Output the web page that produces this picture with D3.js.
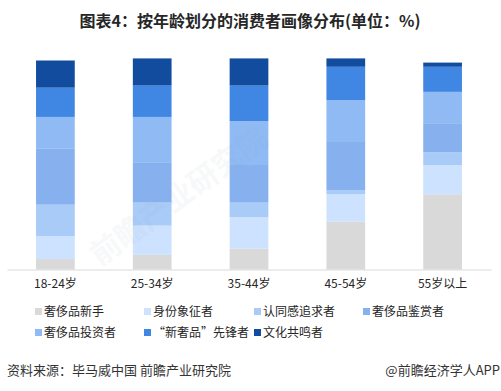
<!DOCTYPE html>
<html>
<head>
<meta charset="utf-8">
<script src="https://cdn.jsdelivr.net/npm/d3@7"></script>
<style>
  body { margin: 0; background: #fff; }
  svg { display: block; font-family: "Noto Sans CJK SC", "Noto Sans", sans-serif; }
</style>
</head>
<body>
<svg id="chart" width="501" height="391"></svg>
<script>
// age groups on the x axis
const ageGroups = ['18-24岁', '25-34岁', '35-44岁', '45-54岁', '55岁以上'];

// consumer types, stacked bottom -> top
const consumerTypes = ['奢侈品新手', '身份象征者', '认同感追求者', '奢侈品鉴赏者', '奢侈品投资者', '\u201C新奢品\u201D先锋者', '文化共鸣者'];

// share (%) of each type per age group
const novice      = [5, 7, 10, 23, 36];
const statusSym   = [11, 14, 15, 13, 14];
const identity    = [15, 11, 7, 2, 6];
const connoisseur = [27, 19, 18, 23, 14];
const investor    = [15, 22, 21, 20, 15];
const pioneer     = [14, 15, 17, 16, 12];
const culture     = [13, 13, 13, 4, 2];

const seriesValues = [novice, statusSym, identity, connoisseur, investor, pioneer, culture];

const colors = ['#d9d9d9', '#cce2fe', '#a9cbf7', '#87b1ee', '#8fbaf3', '#3f87e3', '#114c9e'];

const svg = d3.select('#chart');

// build rows for d3.stack
const rows = ageGroups.map((g, i) => {
    const r = {group: g};
    consumerTypes.forEach((t, k) => { r[t] = seriesValues[k][i]; });
    return r;
});
const stacked = d3.stack().keys(consumerTypes)(rows);

const x = d3.scaleBand()
    .domain(ageGroups)
    .range([7, 491])
    .paddingInner(0.6)
    .paddingOuter(0.3);

const y = d3.scaleLinear()
    .domain([0, 100])
    .range([269.5, 60.5]);

// title
svg.append('text')
    .attr('x', 250)
    .attr('y', 27)
    .attr('text-anchor', 'middle')
    .attr('font-size', 16)
    .attr('font-weight', 'bold')
    .attr('fill', '#262626')
    .text('图表4：按年龄划分的消费者画像分布(单位：%)');

// bars
const layer = svg.append('g')
    .selectAll('g')
    .data(stacked)
    .enter()
    .append('g')
    .attr('fill', (d, i) => colors[i]);

layer.selectAll('rect')
    .data(d => d)
    .enter()
    .append('rect')
    .attr('x', d => x(d.data.group))
    .attr('y', d => y(d[1]))
    .attr('width', x.bandwidth())
    .attr('height', d => y(d[0]) - y(d[1]));

// x axis
const xAxis = svg.append('g')
    .attr('transform', `translate(0,${y(0)})`)
    .call(d3.axisBottom(x).tickSize(0).tickPadding(10));
xAxis.select('.domain').attr('stroke', '#d9d9d9').attr('stroke-width', 1);
xAxis.selectAll('text')
    .attr('font-size', 12)
    .attr('fill', '#262626')
    .attr('font-family', '"Noto Sans CJK SC", sans-serif');

// legend
const legendPos = [
    [35, 311], [144, 311], [254, 311], [363, 311],
    [35, 332], [144, 332], [254, 332]
];
const legend = svg.append('g')
    .selectAll('g')
    .data(consumerTypes)
    .enter()
    .append('g')
    .attr('transform', (d, i) => `translate(${legendPos[i][0]},${legendPos[i][1]})`);
legend.append('rect')
    .attr('x', 0)
    .attr('y', -3)
    .attr('width', 7)
    .attr('height', 7)
    .attr('fill', (d, i) => colors[i]);
legend.append('text')
    .attr('x', 9)
    .attr('y', 5)
    .attr('font-size', 12)
    .attr('fill', '#262626')
    .text(d => d);

// watermark (very faint)
svg.append('text')
    .attr('transform', 'translate(185,205) rotate(-36)')
    .attr('text-anchor', 'middle')
    .attr('font-size', 30)
    .attr('font-weight', 'bold')
    .attr('fill', '#8c9bb0')
    .attr('opacity', 0.06)
    .text('前瞻产业研究院');

// footer
svg.append('text')
    .attr('x', 7)
    .attr('y', 375)
    .attr('font-size', 13)
    .attr('fill', '#333')
    .text('资料来源：毕马威中国 前瞻产业研究院');
svg.append('text')
    .attr('x', 500)
    .attr('y', 375)
    .attr('text-anchor', 'end')
    .attr('font-size', 13)
    .attr('fill', '#333')
    .text('@前瞻经济学人APP');
</script>
</body>
</html>
